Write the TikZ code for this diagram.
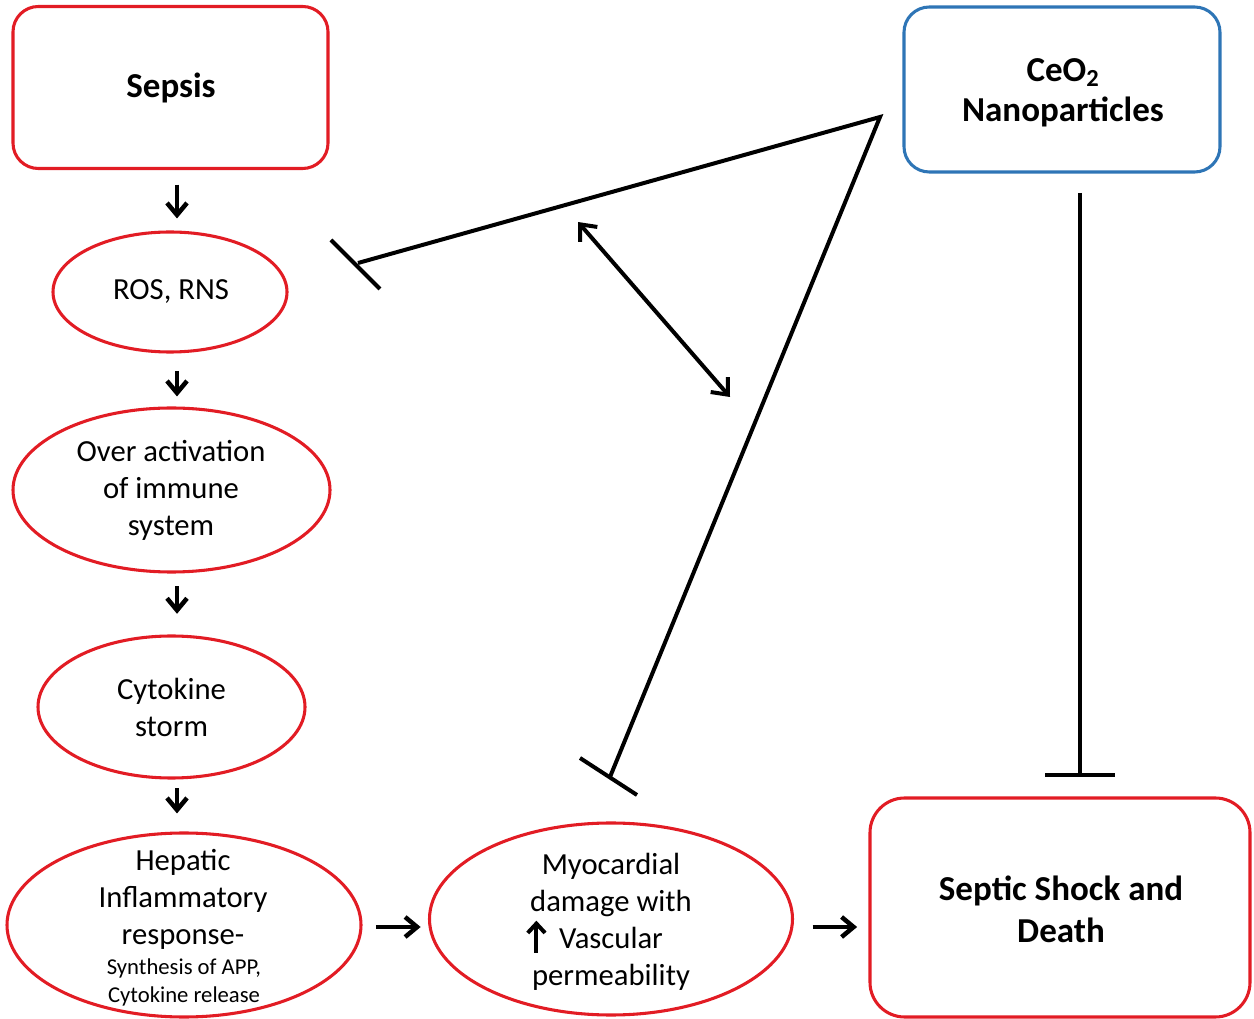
\documentclass[tikz,border=0pt]{standalone}
\usepackage{fontspec}
\setmainfont{Carlito}
\usetikzlibrary{arrows.meta,shapes.geometric}
\definecolor{myred}{RGB}{226,28,36}
\definecolor{myblue}{RGB}{46,117,182}
\begin{document}
\begin{tikzpicture}[x=0.75pt,y=-0.75pt,
  redbox/.style={draw=myred,line width=2.3pt,rounded corners=19pt,rectangle,inner sep=0pt},
  bluebox/.style={draw=myblue,line width=2.3pt,rounded corners=19pt,rectangle,inner sep=0pt},
  redell/.style={draw=myred,line width=2.3pt,ellipse,inner sep=0pt},
  txt/.style={align=center,inner sep=0pt,font=\fontsize{23}{27.75}\selectfont},
  smalltxt/.style={align=center,inner sep=0pt,font=\fontsize{17}{21}\selectfont},
  boldtxt/.style={align=center,inner sep=0pt,font=\fontsize{26.25}{31.5}\selectfont\bfseries},
  flow/.style={line width=3.4pt,-{Straight Barb[length=9pt,width=15pt]}},
  inhib/.style={line width=3pt},
  both/.style={line width=3pt,{Straight Barb[length=10pt,width=17pt]}-{Straight Barb[length=10pt,width=17pt]}}
]
\useasboundingbox (0,0) rectangle (1254,1019);

% boxes
\node[redbox,minimum width=236.25pt,minimum height=121.5pt] (sepsis) at (170.5,87.5) {};
\node[boldtxt] (sepsist) at (171,88) {Sepsis};
\node[bluebox,minimum width=237pt,minimum height=123.75pt] (ceo) at (1062,89.5) {};
\node[boldtxt,font=\fontsize{26.25}{30}\selectfont\bfseries] (ceot) at (1063,93) {CeO\textsubscript{2}\\Nanoparticles};
\node[redbox,rounded corners=26pt,minimum width=285pt,minimum height=164.25pt] (shock) at (1060,907.5) {};
\node[boldtxt] (shockt) at (1061,909) {Septic Shock and\\Death};

% ellipses
\node[redell,minimum width=175.5pt,minimum height=90pt] (ros) at (170,292) {};
\node[txt] (rost) at (171,292) {ROS, RNS};
\node[redell,minimum width=237.75pt,minimum height=123pt] (over) at (171.5,490) {};
\node[txt] (overt) at (171,490) {Over activation\\of immune\\system};
\node[redell,minimum width=200.25pt,minimum height=106.5pt] (cyto) at (171.5,707) {};
\node[txt] (cytot) at (171.5,707) {Cytokine\\storm};
\node[redell,minimum width=265.5pt,minimum height=138pt] (hep) at (184,925) {};
\node[txt] (hept) at (183,899) {Hepatic\\Inflammatory\\response-};
\node[smalltxt] (hepst) at (184,982) {Synthesis of APP,\\Cytokine release};
\node[redell,minimum width=272.25pt,minimum height=144pt] (myo) at (611,919) {};
\node[txt] (myot) at (611,922) {Myocardial\\damage with\\\tikz[baseline=0pt]\draw[line width=3pt,-{Straight Barb[length=7pt,width=13pt]}] (0,-3pt) -- (0,21pt);\hspace{9pt}Vascular\rule{25pt}{0pt}\\permeability};

% flow arrows
\coordinate (ax) at (177,0);
\draw[flow,shorten <=11pt,shorten >=9pt] (sepsis.south -| ax) -- (ros.north -| ax);
\draw[flow,shorten <=13pt,shorten >=7.5pt] (ros.south -| ax) -- (over.north -| ax);
\draw[flow,shorten <=9.5pt,shorten >=15.5pt] (over.south -| ax) -- (cyto.north -| ax);
\draw[flow,shorten <=6.5pt,shorten >=13.5pt] (cyto.south -| ax) -- (hep.north -| ax);
\draw[flow,shorten <=10pt,shorten >=5.5pt] ([yshift=-1.5pt]hep.east) -- ([yshift=-1.5pt]hep.east -| myo.west);
\draw[flow,shorten <=14pt,shorten >=8.5pt] ([yshift=-6pt]myo.east) -- ([yshift=-6pt]myo.east -| shock.west);

% inhibition lines
\coordinate (apex) at (880,117);
\coordinate (rosend) at (358,263);
\coordinate (rosbarA) at (331,240);
\coordinate (rosbarB) at (380,289);
\coordinate (myoend) at (610,777);
\coordinate (myobarA) at (580,758);
\coordinate (myobarB) at (637,795);
\coordinate (ceoend) at (1080,193);
\coordinate (shockend) at (1080,775);
\coordinate (shockbarA) at (1045,775);
\coordinate (shockbarB) at (1115,775);
\draw[inhib,line join=miter] (rosend) -- (apex) -- (myoend);
\draw[inhib] (rosbarA) -- (rosbarB);
\draw[inhib] (myobarA) -- (myobarB);
\draw[inhib] (ceoend) -- (shockend);
\draw[inhib] (shockbarA) -- (shockbarB);

% double arrow
\coordinate (dA) at (578,222);
\coordinate (dB) at (730,397);
\draw[both] (dA) -- (dB);
\end{tikzpicture}
\end{document}
